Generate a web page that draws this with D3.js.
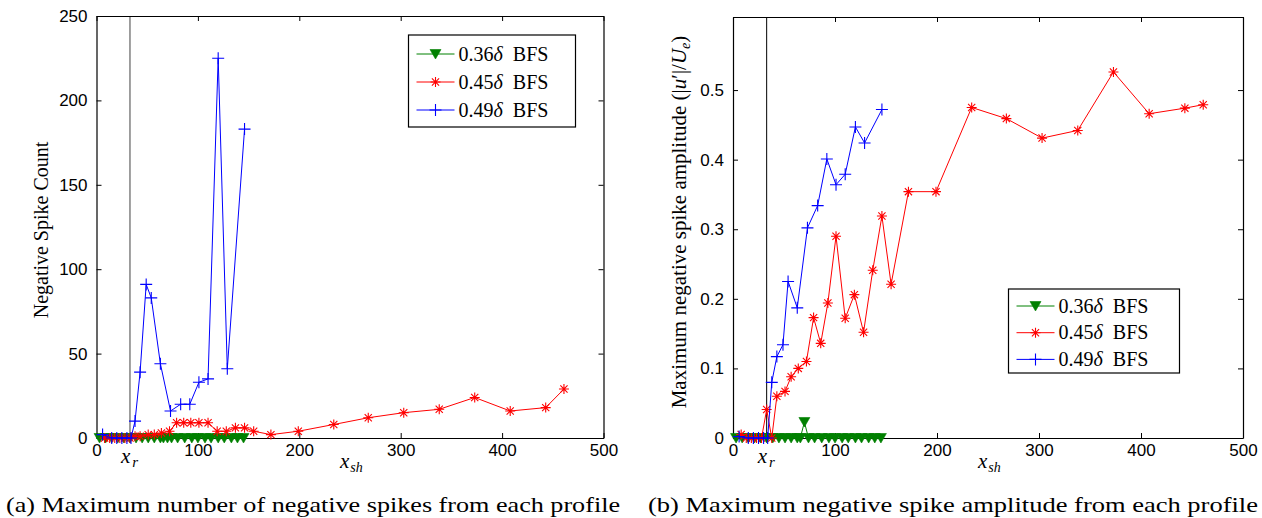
<!DOCTYPE html>
<html><head><meta charset="utf-8">
<script src="https://cdn.jsdelivr.net/npm/d3@7"></script>
<style>body{margin:0;background:#fff}svg{display:block}.serif{font-family:"Liberation Serif","Times New Roman",serif}</style>
</head><body>
<svg id="c" width="1262" height="518"></svg>
<script>
// ---- data ----
const seriesNames = ["0.36δ BFS", "0.45δ BFS", "0.49δ BFS"];
const xTicks = [0, 100, 200, 300, 400, 500];
const countTicks = [0, 50, 100, 150, 200, 250];
const ampTicks = [0, 0.1, 0.2, 0.3, 0.4, 0.5];
const xr = 33;

const greenX = [3, 9, 15, 21, 27, 33, 39, 45, 51, 57, 63, 66, 70, 74, 80, 87, 94, 100, 107, 113, 120, 126, 133, 139, 145];
const greenCount = [0,0,0,0,0,0,0,0,0,0,0,0,0,0,0,0,0,0,0,0,0,0,0,0,0];
const greenAmp   = [0,0,0,0,0,0,0,0,0,0,0,0,0.023,0,0,0,0,0,0,0,0,0,0,0,0];

const redX = [8, 13, 18, 23, 28, 33, 38, 43, 51, 57, 64, 72, 79, 86, 93, 101, 110, 119, 128, 137, 146, 155, 172, 199, 234, 268, 303, 338, 373, 408, 443, 461];
const redCount = [0,0,0,0,0,0,1,1,2,2,3,4,9,9,9,9,9,4,4,6,6,4,2,4,8,12,15,17,24,16,18,29];
const redAmp = [0.005,0,0,0,0,0.041,0,0.060,0.067,0.088,0.100,0.110,0.173,0.136,0.194,0.290,0.172,0.206,0.152,0.241,0.319,0.221,0.354,0.354,0.475,0.459,0.431,0.442,0.526,0.466,0.474,0.479];

const blueX = [6, 15, 20, 25, 30, 34, 38, 43, 49, 54, 63, 73, 83, 92, 101, 110, 120, 129, 146];
const blueCount = [2,0,0,0,0,0,10,39,91,83,44,16,20,20,33,35,225,41,183];
const blueAmp = [0.002,0,0,0,0,0,0.080,0.117,0.134,0.225,0.187,0.302,0.334,0.401,0.364,0.379,0.447,0.424,0.472];

const colors = ["#008000", "#ff0000", "#0000ff"];
const markers = ["tri", "star", "plus"];

const svg = d3.select("#c");
const SANS = "'Liberation Sans',Arial,sans-serif";

function markerPath(type) {
  if (type === "plus") { const r = 6; return `M${-r},0H${r}M0,${-r}V${r}`; }
  if (type === "star") { const r = 5, d = 3.6; return `M${-r},0H${r}M0,${-r}V${r}M${-d},${-d}L${d},${d}M${-d},${d}L${d},${-d}`; }
  return "M-5.5,-4.5L5.5,-4.5L0,5Z";
}

function drawMarker(g, type, color, x, y) {
  g.append("path").attr("d", markerPath(type))
    .attr("transform", `translate(${x},${y})`)
    .attr("fill", type === "tri" ? color : "none")
    .attr("stroke", color).attr("stroke-width", type === "tri" ? 0.6 : 1.1);
}

function panel(o) {
  const x = d3.scaleLinear().domain([0, 500]).range([o.x0, o.x1]);
  const y = d3.scaleLinear().domain(o.yDomain).range([438, o.yTop]);
  const g = svg.append("g");

  g.append("line").attr("x1", x(xr)).attr("x2", x(xr)).attr("y1", y.range()[0]).attr("y2", y.range()[1])
    .attr("stroke", o.xrColor).attr("stroke-width", o.xrWidth);

  const ax = g.append("g");
  const xb = ax.append("g").attr("transform", `translate(0,438)`)
    .call(d3.axisBottom(x).tickValues(xTicks).tickSizeInner(-5).tickSizeOuter(0).tickPadding(8).tickFormat(d3.format("d")));
  ax.append("g").attr("transform", `translate(0,${o.yTop})`)
    .call(d3.axisTop(x).tickValues(xTicks).tickSizeInner(-5).tickSizeOuter(0).tickFormat(""));
  ax.append("g").attr("transform", `translate(${o.x0},0)`)
    .call(d3.axisLeft(y).tickValues(o.yTicks).tickSizeInner(-5).tickSizeOuter(0).tickPadding(9).tickFormat(o.fmt));
  ax.append("g").attr("transform", `translate(${o.x1},0)`)
    .call(d3.axisRight(y).tickValues(o.yTicks).tickSizeInner(-5).tickSizeOuter(0).tickFormat(""));
  ax.selectAll("g").attr("font-family", SANS).attr("font-size", 17);
  ax.selectAll(".domain").attr("stroke", "#000").attr("stroke-width", 1.2);
  ax.selectAll(".tick line").attr("stroke", "#000");
  ax.selectAll(".tick text").attr("fill", "#000");
  xb.selectAll(".tick text").attr("dy", "0.6em");

  o.series.forEach((s, i) => {
    const pts = s.xs.map((v, k) => [x(v), y(s.ys[k])]);
    g.append("path").attr("d", d3.line()(pts)).attr("fill", "none")
      .attr("stroke", colors[i]).attr("stroke-width", 1);
    const mg = g.append("g");
    pts.forEach(p => drawMarker(mg, markers[i], colors[i], p[0], p[1]));
  });

  const L = o.legend;
  const lg = g.append("g");
  lg.append("rect").attr("x", L.x).attr("y", L.y).attr("width", L.w).attr("height", L.h)
    .attr("fill", "#fff").attr("stroke", "#000").attr("stroke-width", 1.2);
  seriesNames.forEach((n, i) => {
    const ry = L.y + L.first + i * L.step;
    lg.append("line").attr("x1", L.x + 8).attr("x2", L.x + 46).attr("y1", ry).attr("y2", ry)
      .attr("stroke", colors[i]).attr("stroke-width", 1);
    drawMarker(lg, markers[i], colors[i], L.x + 27, ry);
    const t = lg.append("text").attr("class", "serif").attr("x", L.x + 50).attr("y", ry + 6.5).style("font-size", "20px");
    t.append("tspan").text(n.split("δ")[0]);
    t.append("tspan").attr("font-style", "italic").text("δ");
    t.append("tspan").text("\u2002" + n.split("δ")[1].trim());
  });

  const xrl = g.append("text").attr("class", "serif").attr("x", x(xr) - 9).attr("y", 463).style("font-size", "21px");
  xrl.append("tspan").attr("font-style", "italic").text("x");
  xrl.append("tspan").attr("font-style", "italic").style("font-size", "15px").attr("dx", 2).attr("dy", 4).text("r");

  const xsl = g.append("text").attr("class", "serif").attr("x", (o.x0 + o.x1) / 2 - 10).attr("y", 468).style("font-size", "21px");
  xsl.append("tspan").attr("font-style", "italic").text("x");
  xsl.append("tspan").attr("font-style", "italic").style("font-size", "14px").attr("dx", 1).attr("dy", 4).text("sh");

  const ylab = g.append("text").attr("class", "serif").attr("transform", `translate(${o.ylabX},${o.ylabY}) rotate(-90)`)
    .attr("text-anchor", "middle").style("font-size", o.ylabSize + "px");
  o.ylab(ylab);

  g.append("text").attr("class", "serif").attr("x", o.capX).attr("y", 512).style("font-size", "22px")
    .attr("textLength", o.capW).attr("lengthAdjust", "spacingAndGlyphs").text(o.caption);
}

panel({
  x0: 96.5, x1: 603.5, yTop: 16, yDomain: [0, 250], yTicks: countTicks, fmt: d3.format("d"),
  xrColor: "#808080", xrWidth: 1.5,
  series: [{xs: greenX, ys: greenCount}, {xs: redX, ys: redCount}, {xs: blueX, ys: blueCount}],
  legend: {x: 408.5, y: 35, w: 167, h: 92, first: 19, step: 28},
  ylabX: 48, ylabY: 230, ylabSize: 20,
  ylab: t => t.text("Negative Spike Count"),
  caption: "(a) Maximum number of negative spikes from each profile", capX: 6, capW: 614
});

panel({
  x0: 733, x1: 1243, yTop: 17, yDomain: [0, 0.605], yTicks: ampTicks, fmt: d => d === 0 ? "0" : d3.format(".1f")(d),
  xrColor: "#000", xrWidth: 1,
  series: [{xs: greenX, ys: greenAmp}, {xs: redX, ys: redAmp}, {xs: blueX, ys: blueAmp}],
  legend: {x: 1008.5, y: 289, w: 171, h: 84, first: 17, step: 26.7},
  ylabX: 686, ylabY: 222, ylabSize: 21,
  ylab: t => {
    t.append("tspan").text("Maximum negative spike amplitude (|");
    t.append("tspan").attr("font-style", "italic").text("u");
    t.append("tspan").text("′|/");
    t.append("tspan").attr("font-style", "italic").text("U");
    t.append("tspan").attr("font-style", "italic").style("font-size", "14px").attr("dy", 4).text("e");
    t.append("tspan").attr("dy", -4).text(")");
  },
  caption: "(b) Maximum negative spike amplitude from each profile", capX: 648, capW: 610
});
</script>
</body></html>
